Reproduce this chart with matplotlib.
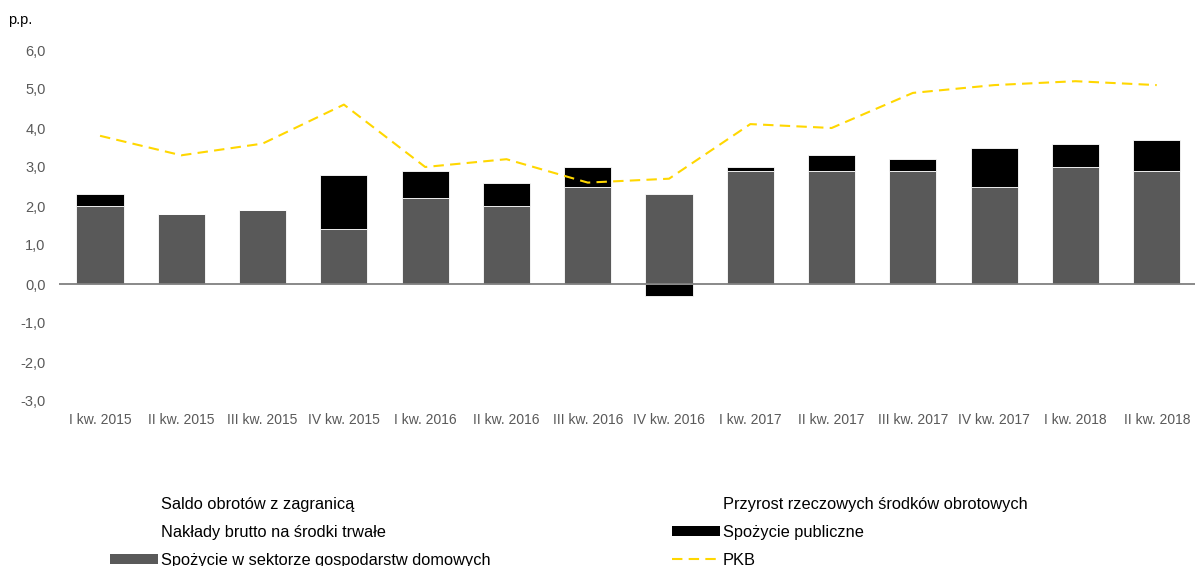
import matplotlib
matplotlib.use("Agg")
import matplotlib.pyplot as plt
from matplotlib.patches import Patch
from matplotlib.lines import Line2D
import numpy as np

plt.rcParams['font.family'] = ['Liberation Sans', 'DejaVu Sans']

categories = ["I kw. 2015", "II kw. 2015", "III kw. 2015", "IV kw. 2015",
              "I kw. 2016", "II kw. 2016", "III kw. 2016", "IV kw. 2016",
              "I kw. 2017", "II kw. 2017", "III kw. 2017", "IV kw. 2017",
              "I kw. 2018", "II kw. 2018"]
households = [2.0, 1.8, 1.9, 1.4, 2.2, 2.0, 2.5, 2.3, 2.9, 2.9, 2.9, 2.5, 3.0, 2.9]
public = [0.3, 0.0, 0.0, 1.4, 0.7, 0.6, 0.5, -0.3, 0.1, 0.4, 0.3, 1.0, 0.6, 0.8]
pkb = [3.8, 3.3, 3.6, 4.6, 3.0, 3.2, 2.6, 2.7, 4.1, 4.0, 4.9, 5.1, 5.2, 5.1]
yticks = [-3.0, -2.0, -1.0, 0.0, 1.0, 2.0, 3.0, 4.0, 5.0, 6.0]

W, H = 1195, 566
fig = plt.figure(figsize=(W / 100, H / 100), dpi=100)
ax = fig.add_axes([59.4 / W, 1 - 401 / H, 1138 / W, 351 / H])

x = np.arange(len(categories))
hh = np.array(households)
pub = np.array(public)
bw = 0.58
gray = '#595959'
ax.bar(x, hh, width=bw, color=gray, edgecolor='white', linewidth=0.6, zorder=2)
pub_bottom = np.where(pub >= 0, hh, 0.0)
ax.bar(x, pub, width=bw, bottom=pub_bottom, color='black', edgecolor='white',
       linewidth=0.6, zorder=2)
ax.plot(x, pkb, color='#FFD700', lw=1.5, dashes=(5, 3), zorder=3)
ax.axhline(0, color='#808080', lw=1.3, zorder=4)

ax.set_xlim(-0.5, len(categories) - 0.5)
ax.set_ylim(-3.0, 6.0)
ax.set_yticks(yticks)
ax.set_yticklabels([f"{v:.1f}".replace('.', ',') for v in yticks])
ax.set_xticks(x)
ax.set_xticklabels(categories)
ax.tick_params(axis='both', length=0, colors='#595959', labelsize=10.5)
ax.tick_params(axis='x', pad=9, labelsize=10)
ax.tick_params(axis='y', pad=10)
for s in ax.spines.values():
    s.set_visible(False)

fig.text(8 / W, 1 - 20 / H, "p.p.", fontsize=10.5, color='black', va='center', ha='left')

none = dict(facecolor='none', edgecolor='none')
h1 = [Patch(**none, label="Saldo obrotów z zagranicą"),
      Patch(**none, label="Nakłady brutto na środki trwałe"),
      Patch(facecolor=gray, edgecolor='none', label="Spożycie w sektorze gospodarstw domowych")]
h2 = [Patch(**none, label="Przyrost rzeczowych środków obrotowych"),
      Patch(facecolor='black', edgecolor='none', label="Spożycie publiczne"),
      Line2D([], [], color='#FFD700', lw=1.5, dashes=(5, 3), label="PKB")]
common = dict(frameon=False, fontsize=11.8, handlelength=2.9, handleheight=0.6,
              handletextpad=0.2, labelspacing=0.78, borderpad=0, borderaxespad=0)
leg1 = fig.legend(handles=h1, loc='upper left', bbox_to_anchor=(110 / W, 1 - 497 / H), **common)
leg2 = fig.legend(handles=h2, loc='upper left', bbox_to_anchor=(672 / W, 1 - 497 / H), **common)

fig.savefig("out.png", dpi=100)
